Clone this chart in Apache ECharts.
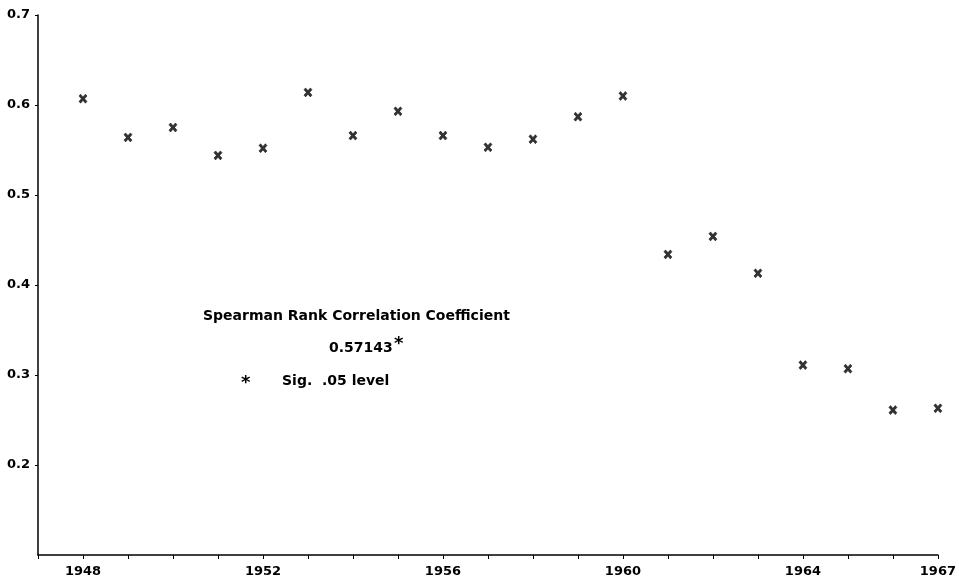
<!DOCTYPE html>
<html>
<head>
<meta charset="utf-8">
<script src="https://cdn.jsdelivr.net/npm/echarts@6/dist/echarts.min.js"></script>
<style>
html,body{margin:0;padding:0;background:#fff;}
#chart{width:959px;height:580px;}
</style>
</head>
<body>
<div id="chart"></div>
<script>
const years = [1948,1949,1950,1951,1952,1953,1954,1955,1956,1957,1958,1959,1960,1961,1962,1963,1964,1965,1966,1967];
const values = [0.607,0.564,0.575,0.544,0.552,0.614,0.566,0.593,0.566,0.553,0.562,0.587,0.610,0.434,0.454,0.413,0.311,0.307,0.261,0.263];
const xTickLabels = [1948,1952,1956,1960,1964,1967];
const yTickLabels = [0.2,0.3,0.4,0.5,0.6,0.7];
const annotationTitle = 'Spearman Rank Correlation Coefficient';
const annotationValue = '0.57143';
const annotationNote = 'Sig.  .05 level';

const font = '"DejaVu Sans", "Liberation Sans", sans-serif';
const chart = echarts.init(document.getElementById('chart'));
const xMark = 'path://M0,2 L2,0 L5,3 L8,0 L10,2 L7,5 L10,8 L8,10 L5,7 L2,10 L0,8 L3,5 Z';

chart.setOption({
  animation: false,
  backgroundColor: '#fff',
  grid: { left: 38, right: 16, top: 15, bottom: 25, containLabel: false },
  xAxis: {
    type: 'value', min: 1947, max: 1967, interval: 1,
    splitLine: { show: false },
    axisLine: { show: true, onZero: false, lineStyle: { color: '#000', width: 1.5 } },
    axisTick: { show: true, length: 4, inside: false, lineStyle: { color: '#000', width: 1 } },
    axisLabel: {
      customValues: xTickLabels, margin: 10,
      color: '#000', fontFamily: font, fontWeight: 'bold', fontSize: 13,
      formatter: v => String(v)
    }
  },
  yAxis: {
    type: 'value', min: 0.1, max: 0.7, interval: 0.1,
    splitLine: { show: false },
    axisLine: { show: true, onZero: false, lineStyle: { color: '#000', width: 1.5 } },
    axisTick: { show: true, customValues: yTickLabels, length: 3, lineStyle: { color: '#000' } },
    axisLabel: {
      customValues: yTickLabels, margin: 8,
      color: '#000', fontFamily: font, fontWeight: 'bold', fontSize: 13,
      formatter: v => v.toFixed(1)
    }
  },
  series: [{
    type: 'scatter',
    data: years.map((y, i) => [y, values[i]]),
    symbol: xMark,
    symbolSize: [8, 9],
    itemStyle: { color: '#000', borderColor: '#000', borderWidth: 0.6 }
  }],
  graphic: [
    { type: 'text', left: 203, top: 309, style: { text: annotationTitle, fill: '#000', font: 'bold 14px ' + font } },
    { type: 'text', left: 329, top: 341, style: { text: annotationValue, fill: '#000', font: 'bold 14px ' + font } },
    { type: 'text', left: 394, top: 335, style: { text: '*', fill: '#000', font: 'bold 18px ' + font } },
    { type: 'text', left: 241, top: 374, style: { text: '*', fill: '#000', font: 'bold 18px ' + font } },
    { type: 'text', left: 282, top: 374, style: { text: annotationNote, fill: '#000', font: 'bold 14px ' + font } }
  ]
});
</script>
</body>
</html>
